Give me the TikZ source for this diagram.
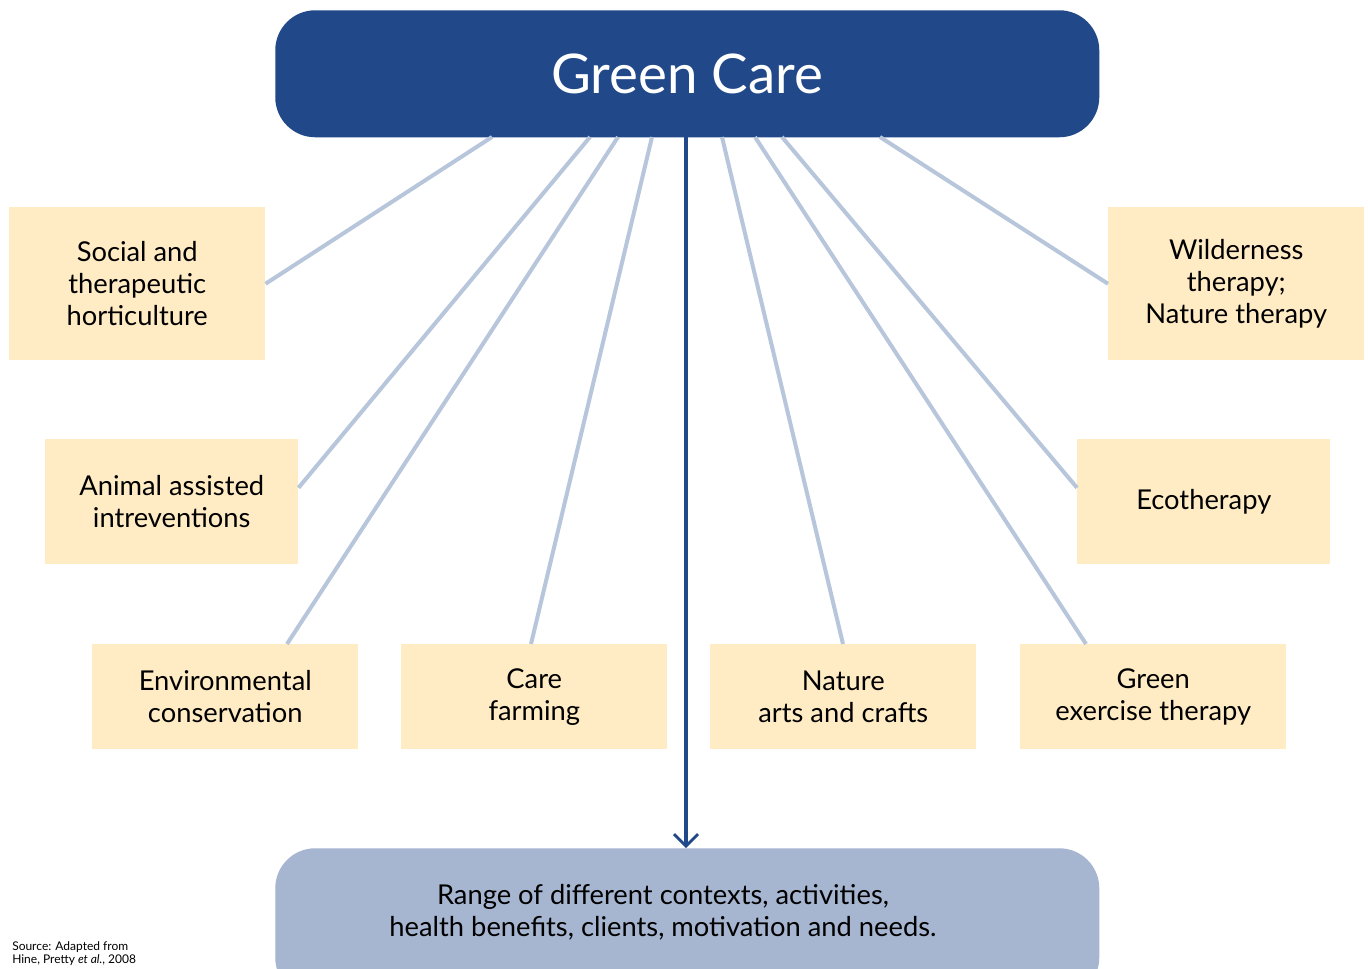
\documentclass[tikz,border=0pt]{standalone}
\usepackage{fontspec}
\setmainfont{Lato}
\usetikzlibrary{calc,arrows.meta}
\definecolor{navy}{RGB}{33,73,137}
\definecolor{paleblue}{RGB}{166,181,208}
\definecolor{linec}{RGB}{184,198,220}
\definecolor{cream}{RGB}{255,236,196}
\tikzset{
  item/.style={fill=cream, draw=none, anchor=north west, align=center, font=\fontsize{20.5}{24}\selectfont, inner sep=0pt},
  spoke/.style={draw=linec, line width=3pt},
}
\begin{document}
\begin{tikzpicture}[x=0.75pt,y=-0.75pt]
\useasboundingbox (0,0) rectangle (1368,968);
\fill[white] (0,0) rectangle (1368,968);
% top box
\node[fill=navy, rounded corners=30pt, minimum width=618pt, minimum height=95.25pt, anchor=north west, inner sep=0pt, text=white, font=\fontsize{41}{48}\selectfont] (top) at (275,10) {Green Care};
% bottom box
\node[fill=paleblue, rounded corners=30pt, minimum width=618pt, minimum height=112pt, anchor=north west, inner sep=0pt] (bottom) at (275,848) {};
\node[align=center, font=\fontsize{20.5}{24}\selectfont] (btext) at (663,912) {Range of different contexts, activities,\\health benefits, clients, motivation and needs.};
% items
\node[item, minimum width=192pt, minimum height=114.75pt] (social) at (9,207) {Social and\\therapeutic\\horticulture};
\node[item, minimum width=192pt, minimum height=114.75pt] (wild) at (1108,207) {Wilderness\\therapy;\\Nature therapy};
\node[item, minimum width=189.75pt, minimum height=93.75pt] (animal) at (45,439) {Animal assisted\\intreventions};
\node[item, minimum width=189.75pt, minimum height=93.75pt] (eco) at (1077,439) {Ecotherapy};
\node[item, minimum width=199.5pt, minimum height=78.75pt] (env) at (92,644) {Environmental\\conservation};
\node[item, minimum width=199.5pt, minimum height=78.75pt] (care) at (401,644) {Care\\farming};
\node[item, minimum width=199.5pt, minimum height=78.75pt] (nat) at (710,644) {Nature\\arts and crafts};
\node[item, minimum width=199.5pt, minimum height=78.75pt] (gex) at (1020,644) {Green\\exercise therapy};
% spoke ends on top box
\coordinate (t1) at (492,137);
\coordinate (t2) at (590,137);
\coordinate (t3) at (618,137);
\coordinate (t4) at (652,137);
\coordinate (t5) at (722,137);
\coordinate (t6) at (755,137);
\coordinate (t7) at (782,137);
\coordinate (t8) at (880,137);
\coordinate (tc) at (686,137);
\coordinate (bc) at (686,848);
\draw[spoke] (social.east) -- (t1);
\draw[spoke] ($(animal.east)+(0,-14)$) -- (t2);
\draw[spoke] ($(env.north west)+(195,0)$) -- (t3);
\draw[spoke] ($(care.north west)+(130,0)$) -- (t4);
\draw[spoke] ($(nat.north west)+(133,0)$) -- (t5);
\draw[spoke] ($(gex.north west)+(66,0)$) -- (t6);
\draw[spoke] ($(eco.west)+(0,-14)$) -- (t7);
\draw[spoke] (wild.west) -- (t8);
\draw[navy, line width=2.3pt, -{Straight Barb[length=9pt,width=18pt,line width=2pt]}] (tc) -- (bc);
% source
\node[anchor=north west, align=left, inner sep=0pt, font=\fontsize{9}{10}\selectfont] (src) at (12,941) {Source: Adapted from\\Hine, Pretty \textit{et al.}, 2008};
\end{tikzpicture}
\end{document}
